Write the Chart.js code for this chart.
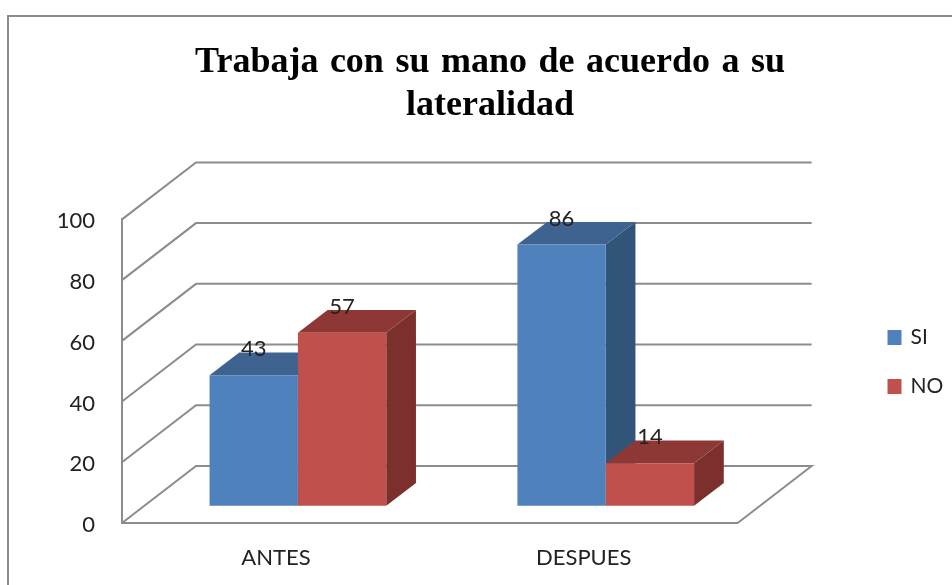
<!DOCTYPE html>
<html>
<head>
<meta charset="utf-8">
<title>Trabaja con su mano</title>
<script src="https://cdn.jsdelivr.net/npm/chart.js@4/dist/chart.umd.min.js"></script>
<style>
  html, body { margin: 0; padding: 0; background: #fff; }
  #wrap { position: relative; width: 952px; height: 585px; }
</style>
</head>
<body>
<div id="wrap"><canvas id="chart"></canvas></div>
<script>
const categories = ['ANTES', 'DESPUES'];
const siValues = [43, 86];
const noValues = [57, 14];
const yTicks = [0, 20, 40, 60, 80, 100];
const titleLines = ['Trabaja con su mano de acuerdo a su', 'lateralidad'];

const GRID = '#8c8c8c';
const TEXT = '#222222';
// wall depth and bar depth of the fake 3D box
const wall = { dx: 74, dy: -57 };
const barShift = { dx: 22, dy: -17.3 };
const barDepth = { dx: 29.7, dy: -22.6 };
const shades = [
  { top: '#3e6390', side: '#325479' },
  { top: '#8e3836', side: '#7b302e' }
];

function poly(ctx, pts, color) {
  ctx.fillStyle = color;
  ctx.beginPath();
  pts.forEach((p, i) => i ? ctx.lineTo(p[0], p[1]) : ctx.moveTo(p[0], p[1]));
  ctx.closePath();
  ctx.fill();
}

const box3d = {
  id: 'box3d',
  afterLayout(chart) {
    // legend and title sit apart from the plot, so move them after the layout
    chart.legend.left = 861;
    chart.legend.right = 952;
    chart.legend.top = 299;
    chart.legend.bottom = 585;
    chart.titleBlock.left = 0;
    chart.titleBlock.right = 980;
  },
  beforeDraw(chart) {
    const ctx = chart.ctx;
    ctx.save();
    ctx.strokeStyle = GRID;
    ctx.lineWidth = 2;
    ctx.beginPath();
    ctx.moveTo(8, 585);
    ctx.lineTo(8, 16);
    ctx.lineTo(952, 16);
    ctx.stroke();
    ctx.restore();
    // only the title has spaces in it
    ctx.wordSpacing = '2.5px';
  },
  beforeDatasetsDraw(chart) {
    const ctx = chart.ctx;
    const y = chart.scales.y;
    const { left, right } = chart.chartArea;
    ctx.save();
    ctx.strokeStyle = GRID;
    ctx.lineWidth = 2;
    yTicks.forEach(v => {
      const py = y.getPixelForValue(v);
      ctx.beginPath();
      ctx.moveTo(left, py);
      ctx.lineTo(left + wall.dx, py + wall.dy);
      ctx.lineTo(right + wall.dx, py + wall.dy);
      if (v === 0) {
        ctx.lineTo(right, py);
      }
      ctx.stroke();
    });
    ctx.restore();
  },
  // the library paints the first dataset last, here SI has to go under NO
  beforeDatasetDraw() {
    return false;
  },
  afterDatasetsDraw(chart) {
    const ctx = chart.ctx;
    ctx.save();
    ctx.translate(barShift.dx, barShift.dy);
    chart.data.datasets.forEach((ds, i) => {
      const meta = chart.getDatasetMeta(i);
      const d = barDepth;
      meta.data.forEach(bar => {
        const x0 = bar.x - bar.width / 2;
        const x1 = bar.x + bar.width / 2;
        poly(ctx, [[x1, bar.y], [x1 + d.dx, bar.y + d.dy], [x1 + d.dx, bar.base + d.dy], [x1, bar.base]], shades[i].side);
        poly(ctx, [[x0, bar.y], [x0 + d.dx, bar.y + d.dy], [x1 + d.dx, bar.y + d.dy], [x1, bar.y]], shades[i].top);
      });
      meta.controller.draw();
    });
    ctx.restore();

    ctx.save();
    ctx.font = '22px Lato';
    ctx.fillStyle = TEXT;
    ctx.textAlign = 'center';
    ctx.textBaseline = 'middle';
    chart.data.datasets.forEach((ds, i) => {
      chart.getDatasetMeta(i).data.forEach((bar, j) => {
        ctx.fillText(ds.data[j], bar.x + barShift.dx, bar.y + barShift.dy - 26);
      });
    });
    ctx.restore();
  }
};

new Chart(document.getElementById('chart'), {
  type: 'bar',
  plugins: [box3d],
  data: {
    labels: categories,
    datasets: [
      { label: 'SI', data: siValues, backgroundColor: '#4f81bd' },
      { label: 'NO', data: noValues, backgroundColor: '#c0504d' }
    ]
  },
  options: {
    responsive: true,
    maintainAspectRatio: false,
    animation: false,
    layout: { padding: { left: 0, right: 122, top: 0, bottom: 0 } },
    datasets: { bar: { barPercentage: 1, categoryPercentage: 0.574 } },
    plugins: {
      title: {
        display: true,
        text: titleLines,
        color: '#000000',
        font: { family: 'Liberation Serif', size: 36, weight: 'bold', lineHeight: 1.2 },
        padding: { top: 41, bottom: 92 }
      },
      legend: {
        position: 'right',
        align: 'start',
        labels: {
          color: TEXT,
          font: { family: 'Lato', size: 21 },
          // smaller box plus a stroke of the same colour, keeps the text closer to it
          boxWidth: 11,
          boxHeight: 12,
          padding: 28,
          generateLabels(chart) {
            const items = Chart.defaults.plugins.legend.labels.generateLabels(chart);
            items.forEach(item => {
              item.lineWidth = 3;
              item.strokeStyle = item.fillStyle;
            });
            return items;
          }
        }
      },
      tooltip: { enabled: false }
    },
    scales: {
      x: {
        grid: { display: false },
        border: { color: GRID, width: 2 },
        ticks: { color: TEXT, font: { family: 'Lato', size: 22 }, padding: 14, maxRotation: 0 },
        afterFit(scale) { scale.height = 62; }
      },
      y: {
        min: 0,
        max: 100,
        grid: { display: false },
        border: { color: GRID, width: 2 },
        ticks: { stepSize: 20, color: TEXT, font: { family: 'Lato', size: 22 }, padding: 19, labelOffset: 2 },
        afterFit(scale) { scale.width = 122; }
      }
    }
  }
});
</script>
</body>
</html>
